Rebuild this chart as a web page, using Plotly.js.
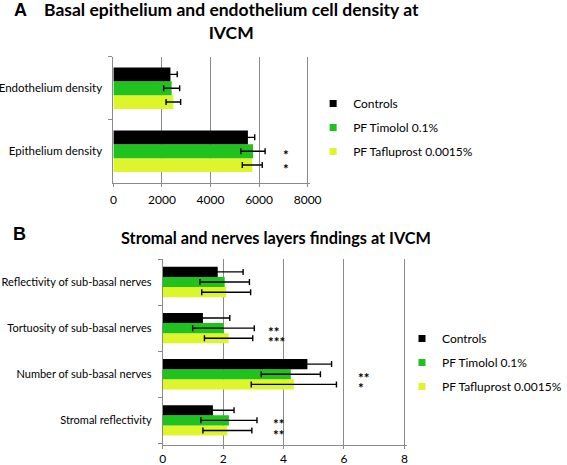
<!DOCTYPE html>
<html>
<head>
<meta charset="utf-8">
<script src="https://cdn.plot.ly/plotly-3.0.1.min.js"></script>
<style>html,body{margin:0;padding:0;background:#fff;}#chart{width:567px;height:465px;}</style>
</head>
<body>
<div id="chart"></div>
<script>
// ---------- DATA ----------
const seriesNames = ['Controls', 'PF Timolol 0.1%', 'PF Tafluprost 0.0015%'];

// Panel A (categories listed bottom -> top)
const catsA = ['Epithelium density', 'Endothelium density'];
const controlsA = [5540, 2350];
const controlsErrA = [280, 280];
const timololA = [5750, 2400];
const timololErrA = [500, 330];
const tafluA = [5720, 2470];
const tafluErrA = [410, 300];
const ticksA = [0, 2000, 4000, 6000, 8000];

// Panel B (categories listed bottom -> top)
const catsB = ['Stromal reflectivity', 'Number of sub-basal nerves', 'Tortuosity of sub-basal nerves', 'Reflectivity of sub-basal nerves'];
const controlsB = [1.66, 4.79, 1.33, 1.82];
const controlsErrB = [0.70, 0.80, 0.89, 0.84];
const timololB = [2.19, 4.24, 2.01, 2.05];
const timololErrB = [0.93, 0.98, 1.02, 0.82];
const tafluB = [2.14, 4.34, 2.18, 2.10];
const tafluErrB = [0.81, 1.41, 0.80, 0.81];
const ticksB = [0, 2, 4, 6, 8];

// significance marks: [category, series index (1 timolol, 2 tafluprost), text]
const sigA = [['Epithelium density', 1, '*'], ['Epithelium density', 2, '*']];
const sigB = [
  ['Tortuosity of sub-basal nerves', 1, '**'], ['Tortuosity of sub-basal nerves', 2, '***'],
  ['Number of sub-basal nerves', 1, '**'], ['Number of sub-basal nerves', 2, '*'],
  ['Stromal reflectivity', 1, '**'], ['Stromal reflectivity', 2, '**']
];

// ---------- STYLE ----------
const colors = ['#000000', '#1fc21f', '#def52c'];
const FONT = 'Lato, "Open Sans", sans-serif';
const W = 567, H = 465;
const px = v => v / W;
const py = v => (H - v) / H;
const BARGAP = 0.34;
const slot = (1 - BARGAP) / 3;
const PAD = 1.01; // small range pad so the last gridline is drawn

function bars(cats, vals, errs, idx, xa, ya) {
  return {
    type: 'bar', orientation: 'h', y: cats, x: vals,
    xaxis: xa, yaxis: ya, showlegend: false, name: seriesNames[idx],
    marker: {color: colors[idx], line: {width: 0}},
    error_x: {type: 'data', array: errs, visible: true, color: '#000', thickness: 1.4, width: 3},
    hoverinfo: 'x+y'
  };
}

const data = [
  // draw order bottom -> top inside group: tafluprost, timolol, controls
  bars(catsA, tafluA, tafluErrA, 2, 'x', 'y'),
  bars(catsA, timololA, timololErrA, 1, 'x', 'y'),
  bars(catsA, controlsA, controlsErrA, 0, 'x', 'y'),
  bars(catsB, tafluB, tafluErrB, 2, 'x2', 'y2'),
  bars(catsB, timololB, timololErrB, 1, 'x2', 'y2'),
  bars(catsB, controlsB, controlsErrB, 0, 'x2', 'y2')
];
// legend-only entries
['legend', 'legend2'].forEach((lg, k) => {
  seriesNames.forEach((n, i) => {
    data.push({
      type: 'scatter', mode: 'markers', x: [null], y: [null],
      xaxis: k ? 'x2' : 'x', yaxis: k ? 'y2' : 'y',
      name: n, legend: lg, legendgroup: lg + i, showlegend: true,
      marker: {symbol: 'square', size: 7, color: colors[i]}
    });
  });
});

const gridCol = '#8a8a8a';
function xax(x0, x1, ticks, standoff) {
  const xEnd = x0 + (x1 - x0) * PAD;
  return {
    domain: [px(x0), px(xEnd)], range: [0, ticks[ticks.length - 1] * PAD], tickvals: ticks,
    showgrid: true, gridcolor: gridCol, gridwidth: 1, zeroline: false,
    showline: true, linecolor: gridCol, linewidth: 1,
    ticks: 'outside', ticklen: 3, tickcolor: gridCol, tickwidth: 1, ticklabelstandoff: standoff,
    tickfont: {family: FONT, size: 12, color: '#000'}, fixedrange: true
  };
}
function yax(domain, cats, anchor, fs) {
  return {
    domain: domain, type: 'category', categoryarray: cats, categoryorder: 'array',
    tickson: 'boundaries', ticks: 'outside', ticklen: 4, tickcolor: gridCol, tickwidth: 1,
    showline: true, linecolor: gridCol, linewidth: 1, showgrid: false, zeroline: false,
    tickfont: {family: FONT, size: fs, color: '#000'}, ticklabelstandoff: 8,
    anchor: anchor, fixedrange: true
  };
}

const center = {xanchor: 'center', yanchor: 'middle', xref: 'paper', yref: 'paper', showarrow: false};
const annotations = [
  Object.assign({text: '<b>A</b>', x: px(21), y: py(10),
   font: {family: 'Liberation Sans, Arial, sans-serif', size: 18, color: '#000'}}, center),
  Object.assign({text: '<b>Basal epithelium and endothelium cell density at<br>IVCM</b>', x: px(240), y: py(21),
   align: 'center', font: {family: FONT, size: 17.5, color: '#000'}}, center),
  Object.assign({text: '<b>B</b>', x: px(20), y: py(233.5),
   font: {family: 'Liberation Sans, Arial, sans-serif', size: 18, color: '#000'}}, center),
  Object.assign({text: '<b>Stromal and nerves layers findings at IVCM</b>', x: px(286), y: py(237),
   font: {family: FONT, size: 16.3, color: '#000'}}, center)
];
// series offset within a group: series 0 top, 2 bottom
const offs = [slot, 0, -slot];
const starXA = {'Epithelium density': 6900};
const starXB = {'Tortuosity of sub-basal nerves': 3.41, 'Number of sub-basal nerves': 6.39, 'Stromal reflectivity': 3.57};
sigA.forEach(s => annotations.push({
  text: '<b>' + s[2] + '</b>', x: starXA[s[0]], y: catsA.indexOf(s[0]) + offs[s[1]], xref: 'x', yref: 'y',
  xanchor: 'left', yanchor: 'middle', yshift: -4, showarrow: false, font: {family: FONT, size: 13.5, color: '#000'}
}));
sigB.forEach(s => annotations.push({
  text: '<b>' + s[2] + '</b>', x: starXB[s[0]], y: catsB.indexOf(s[0]) + offs[s[1]], xref: 'x2', yref: 'y2',
  xanchor: 'left', yanchor: 'middle', yshift: -4, showarrow: false, font: {family: FONT, size: 13.5, color: '#000'}
}));

const legendBase = {
  xanchor: 'left', yanchor: 'top', bgcolor: 'rgba(0,0,0,0)', borderwidth: 0,
  font: {family: FONT, size: 12, color: '#000'}, tracegroupgap: 5, traceorder: 'grouped', itemclick: false
};

const layout = {
  width: W, height: H, margin: {l: 0, r: 0, t: 0, b: 0},
  paper_bgcolor: '#fff', plot_bgcolor: '#fff',
  barmode: 'group', bargap: BARGAP, bargroupgap: 0,
  xaxis: xax(117.3, 318.3, ticksA, 3),
  yaxis: yax([py(182.7), py(56.7)], catsA, 'x', 11.5),
  xaxis2: xax(168.4, 418.4, ticksB, 0),
  yaxis2: yax([py(444.5), py(259)], catsB, 'x2', 11),
  legend: Object.assign({}, legendBase, {x: px(324), y: py(89)}),
  legend2: Object.assign({}, legendBase, {x: px(416), y: py(324)}),
  annotations: annotations,
  showlegend: true
};
layout.xaxis.anchor = 'y';
layout.xaxis2.anchor = 'y2';

Plotly.newPlot('chart', data, layout, {displayModeBar: false, staticPlot: true});
</script>
</body>
</html>
